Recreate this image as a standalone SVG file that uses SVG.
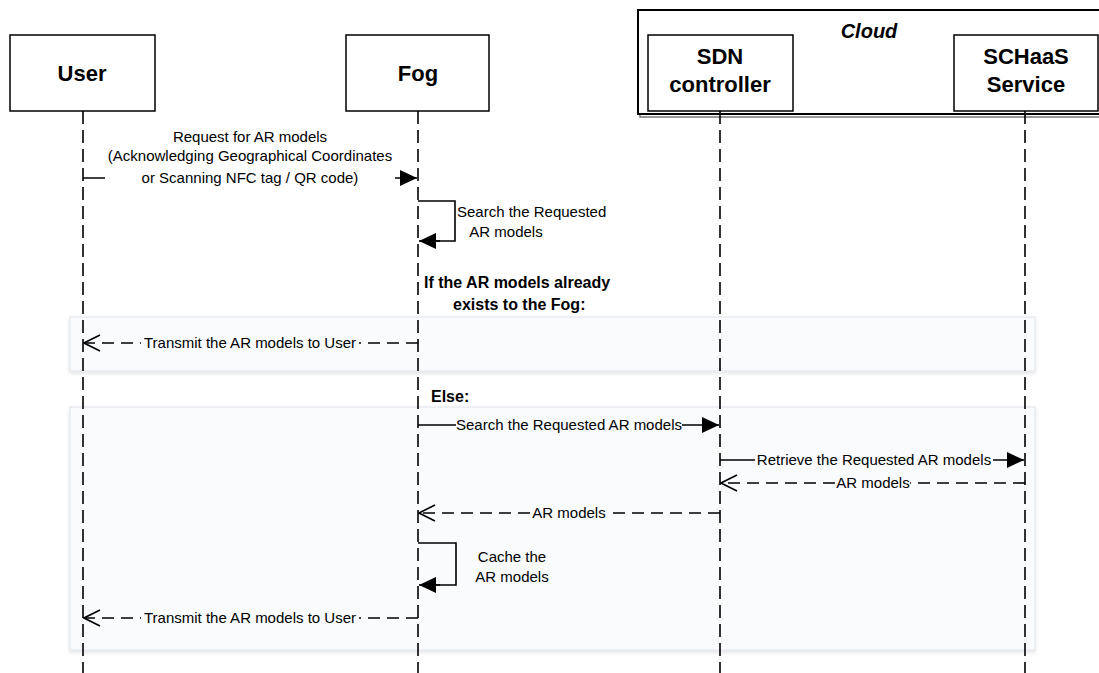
<svg xmlns="http://www.w3.org/2000/svg" width="1099" height="673" viewBox="0 0 1099 673">
<style>
.box{fill:#fff;stroke:#000;stroke-width:1.5}
.title{font-family:"Liberation Sans",Arial,sans-serif;font-weight:bold;font-size:22px;text-anchor:middle;fill:#000}
.life{stroke:#000;stroke-width:1.6;stroke-dasharray:13 6;fill:none}
.msg{stroke:#000;stroke-width:1.6;fill:none}
.ret{stroke:#000;stroke-width:1.6;fill:none;stroke-dasharray:12 7}
.lbl{font-family:"Liberation Sans",Arial,sans-serif;font-size:15px;fill:#000;text-anchor:middle}
.lbll{font-family:"Liberation Sans",Arial,sans-serif;font-size:15px;fill:#000}
.cond{font-family:"Liberation Sans",Arial,sans-serif;font-size:16px;font-weight:bold;fill:#000}
.frame{fill:#f9fbfd;stroke:#dfe4ea;stroke-width:1}
.fbg{fill:#f9fbfd}
.wbg{fill:#fff}
</style>
<defs>
<marker id="fa" markerUnits="userSpaceOnUse" markerWidth="18" markerHeight="16" refX="17" refY="8" orient="auto">
<path d="M0,0 L17,8 L0,16 z" fill="#000"/>
</marker>
<marker id="oa" markerUnits="userSpaceOnUse" markerWidth="18" markerHeight="18" refX="17" refY="9" orient="auto">
<path d="M1,1 L17,9 L1,17" fill="none" stroke="#000" stroke-width="1.6"/>
</marker>
<filter id="sh" x="-5%" y="-20%" width="110%" height="140%">
<feGaussianBlur in="SourceAlpha" stdDeviation="2"/>
<feOffset dx="0" dy="2"/>
<feComponentTransfer><feFuncA type="linear" slope="0.12"/></feComponentTransfer>
<feMerge><feMergeNode/><feMergeNode in="SourceGraphic"/></feMerge>
</filter>
</defs>
<rect width="1099" height="673" fill="#fff"/>

<g id="frames">
<rect class="frame" x="70" y="317" width="965" height="54" filter="url(#sh)"/>
<rect class="frame" x="70" y="407" width="965" height="243" filter="url(#sh)"/>
</g>

<g id="cloud">
<rect x="640" y="13" width="465" height="104" fill="none" stroke="#777" stroke-width="1.5"/>
<rect x="638" y="10" width="465" height="104" fill="#fff" stroke="#000" stroke-width="2"/>
<text x="869" y="38" font-family="Liberation Sans,Arial,sans-serif" font-size="20" font-weight="bold" font-style="italic" text-anchor="middle">Cloud</text>
</g>

<g id="lifelines">
<line class="life" x1="83" y1="111" x2="83" y2="673"/>
<line class="life" x1="418" y1="111" x2="418" y2="673"/>
<line class="life" x1="720" y1="111" x2="720" y2="673"/>
<line class="life" x1="1025" y1="111" x2="1025" y2="673"/>
</g>

<g id="user">
<rect class="box" x="10" y="35" width="145" height="76"/>
<text class="title" x="82" y="81">User</text>
</g>
<g id="fog">
<rect class="box" x="346" y="35" width="143" height="76"/>
<text class="title" x="418" y="81">Fog</text>
</g>
<g id="sdn">
<rect class="box" x="648" y="35" width="145" height="76"/>
<text class="title" x="720" y="64">SDN</text>
<text class="title" x="720" y="92">controller</text>
</g>
<g id="schaas">
<rect class="box" x="954" y="35" width="144" height="76"/>
<text class="title" x="1026" y="64">SCHaaS</text>
<text class="title" x="1026" y="92">Service</text>
</g>

<g id="connectors">
<!-- request -->
<line class="msg" x1="83" y1="178" x2="417" y2="178" marker-end="url(#fa)"/>
<rect class="wbg" x="105" y="166" width="290" height="22"/>
<text class="lbl" x="250" y="142">Request for AR models</text>
<text class="lbl" x="250" y="161">(Acknowledging Geographical Coordinates</text>
<text class="lbl" x="250" y="183">or Scanning NFC tag / QR code)</text>

<!-- self search -->
<polyline class="msg" points="418,201 455,201 455,241 430,241"/>
<line class="msg" x1="440" y1="241" x2="419" y2="241" marker-end="url(#fa)"/>
<text class="lbll" x="457" y="217">Search the Requested</text>
<text class="lbl" x="506" y="237">AR models</text>

<text class="cond" x="424" y="288">If the AR models already</text>
<text class="cond" x="453" y="310">exists to the Fog:</text>

<!-- transmit 1 -->
<line class="ret" x1="418" y1="343" x2="84" y2="343" marker-end="url(#oa)"/>
<rect class="fbg" x="141" y="334" width="218" height="18"/>
<text class="lbl" x="250" y="348">Transmit the AR models to User</text>

<text class="cond" x="431" y="402">Else:</text>

<!-- search to SDN -->
<line class="msg" x1="418" y1="425" x2="719" y2="425" marker-end="url(#fa)"/>
<rect class="fbg" x="456" y="416" width="226" height="18"/>
<text class="lbl" x="569" y="430">Search the Requested AR models</text>

<!-- retrieve -->
<line class="msg" x1="720" y1="460" x2="1024" y2="460" marker-end="url(#fa)"/>
<rect class="fbg" x="755" y="451" width="238" height="18"/>
<text class="lbl" x="874" y="465">Retrieve the Requested AR models</text>

<!-- AR models back to SDN -->
<line class="ret" x1="1025" y1="483" x2="721" y2="483" marker-end="url(#oa)"/>
<rect class="fbg" x="836" y="474" width="74" height="18"/>
<text class="lbl" x="873" y="488">AR models</text>

<!-- AR models back to Fog -->
<line class="ret" x1="720" y1="513" x2="419" y2="513" marker-end="url(#oa)"/>
<rect class="fbg" x="532" y="504" width="74" height="18"/>
<text class="lbl" x="569" y="518">AR models</text>

<!-- cache self -->
<polyline class="msg" points="418,543 456,543 456,585 430,585"/>
<line class="msg" x1="440" y1="585" x2="419" y2="585" marker-end="url(#fa)"/>
<text class="lbl" x="512" y="562">Cache the</text>
<text class="lbl" x="512" y="582">AR models</text>

<!-- transmit 2 -->
<line class="ret" x1="418" y1="618" x2="84" y2="618" marker-end="url(#oa)"/>
<rect class="fbg" x="141" y="609" width="218" height="18"/>
<text class="lbl" x="250" y="623">Transmit the AR models to User</text>
</g>
</svg>
